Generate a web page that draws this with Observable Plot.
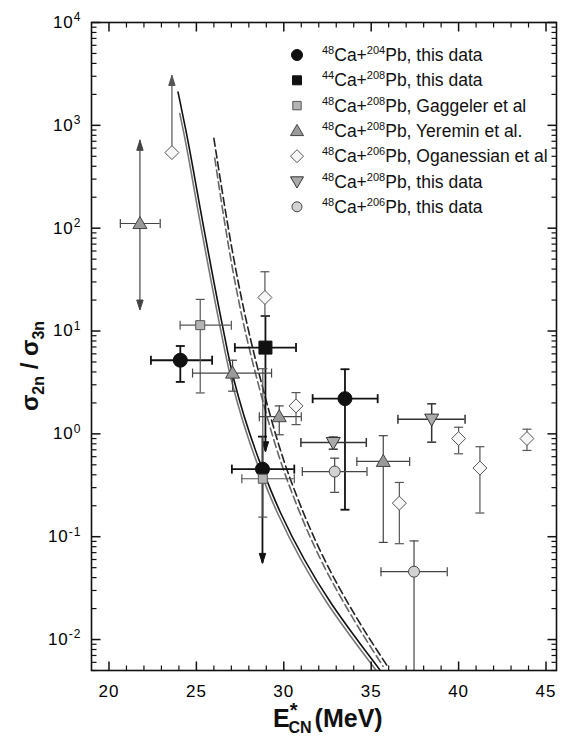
<!DOCTYPE html>
<html>
<head>
<meta charset="utf-8">
<script src="https://cdn.jsdelivr.net/npm/d3@7"></script>
<script src="https://cdn.jsdelivr.net/npm/@observablehq/plot@0.6"></script>
<style>
  body { margin: 0; background: #fff; }
  #chart { width: 562px; height: 737px; }
  svg text { font-family: "Liberation Sans", Arial, sans-serif; }
</style>
</head>
<body>
<div id="chart"></div>
<script>
// ---- measured ratios sigma(2n)/sigma(3n) vs. compound-nucleus excitation energy ----
// E: excitation energy (MeV), r: ratio, eLo/eHi: energy range, rLo/rHi: ratio range
const ca48pb204 = [
  {E: 24.08, r: 5.2,   eLo: 22.4,  eHi: 25.9,  rLo: 3.2,   rHi: 7.15},
  {E: 28.78, r: 0.454, eLo: 27.03, eHi: 30.6,  rLo: 0.055, rHi: 0.94, downArrow: true},
  {E: 33.5,  r: 2.2,   eLo: 31.65, eHi: 35.37, rLo: 0.183, rHi: 4.25}
];
const ca44pb208 = [
  {E: 28.95, r: 6.9,   eLo: 27.2,  eHi: 30.7,  rLo: 0.67,  rHi: 14, downArrow: true}
];
const gaggeler = [
  {E: 25.22, r: 11.4,  eLo: 24.07, eHi: 27.0,  rLo: 2.5,   rHi: 20.3},
  {E: 28.8,  r: 0.366, eLo: 27.6,  eHi: 30.6,  rLo: 0.155, rHi: 4.3}
];
const yeremin = [
  {E: 21.77, r: 111,   eLo: 20.65, eHi: 22.93, rLo: 16,    rHi: 715, upArrow: true, downArrow: true},
  {E: 27.07, r: 3.9,   eLo: 24.78, eHi: 29.3,  rLo: 2.6,   rHi: 5.2},
  {E: 29.74, r: 1.47,  eLo: 28.6,  eHi: 31.0,  rLo: 0.98,  rHi: 1.87},
  {E: 35.69, r: 0.54,  eLo: 34.18, eHi: 37.2,  rLo: 0.088, rHi: 0.96}
];
const oganessian = [
  {E: 23.6,  r: 543,   rHi: 3055, upArrow: true},
  {E: 28.92, r: 21.2,  rLo: 14,    rHi: 37.7},
  {E: 30.7,  r: 1.87,  rLo: 1.23,  rHi: 2.52},
  {E: 36.61, r: 0.212, rLo: 0.0855, rHi: 0.337},
  {E: 40.0,  r: 0.90,  rLo: 0.64,  rHi: 1.16},
  {E: 41.22, r: 0.465, rLo: 0.17,  rHi: 0.75},
  {E: 43.91, r: 0.90,  rLo: 0.69,  rHi: 1.11}
];
const ca48pb208 = [
  {E: 38.46, r: 1.39,  eLo: 36.53, eHi: 40.37, rLo: 0.83,  rHi: 1.96},
  {E: 32.83, r: 0.824, eLo: 30.98, eHi: 34.72, rLo: 0.71,  rHi: 0.93}
];
const ca48pb206 = [
  {E: 32.91, r: 0.43,   eLo: 31.06, eHi: 34.76, rLo: 0.27,  rHi: 0.58},
  {E: 37.45, r: 0.0457, eLo: 35.56, eHi: 39.35, rLo: 0.001, rHi: 0.091, openLo: true}
];

// ---- model calculations: [E (MeV), ratio] ----
const solidBlack = [[23.95, 2105], [24.40, 894], [25.34, 120], [26.46, 12.0], [27.15, 3.34],
  [28.78, 0.454], [29.82, 0.170], [32.68, 0.0229], [34.40, 0.00894], [35.49, 0.0051]];
const solidGray = [[24.05, 1300], [24.25, 894], [25.19, 120], [26.31, 12.0], [27.0, 3.34],
  [28.6, 0.454], [29.64, 0.170], [32.46, 0.0229], [34.17, 0.00894], [35.25, 0.0051]];
const dashedBlack = [[26.0, 750], [28.2, 7.04], [28.68, 3.34], [30.39, 0.357], [32.68, 0.0457],
  [34.40, 0.014], [35.93, 0.0055]];
const dashedGray = [[26.05, 480], [28.0, 7.04], [28.48, 3.34], [30.19, 0.357], [32.46, 0.0457],
  [34.17, 0.014], [35.68, 0.0055]];

// ---- axis ticks ----
const xMajor = [20, 25, 30, 35, 40, 45];
const xMinor = d3.range(20, 46).filter(v => v % 5 !== 0);
const yMajor = [1e-2, 1e-1, 1, 1e1, 1e2, 1e3, 1e4];
const yMinor = [];
for (let e = -3; e < 4; e++) for (let m = 2; m < 10; m++) {
  const v = +(m * Math.pow(10, e)).toPrecision(3);
  if (v >= 0.005 && v <= 1e4) yMinor.push(v);
}

// ---- legend ----
const legendItems = [
  {a: "48", b: "204", text: "Pb, this data"},
  {a: "44", b: "208", text: "Pb, this data"},
  {a: "48", b: "208", text: "Pb, Gaggeler et al"},
  {a: "48", b: "208", text: "Pb, Yeremin et al."},
  {a: "48", b: "206", text: "Pb, Oganessian et al"},
  {a: "48", b: "208", text: "Pb, this data"},
  {a: "48", b: "206", text: "Pb, this data"}
];

// custom path symbols; r is the radius Plot hands to the symbol
const sym = f => ({draw(c, s) { f(c, Math.sqrt(s / Math.PI)); }});
const tickUp = sym((c, l) => { c.moveTo(0, 0); c.lineTo(0, -l); });
const tickDown = sym((c, l) => { c.moveTo(0, 0); c.lineTo(0, l); });
const tickRight = sym((c, l) => { c.moveTo(0, 0); c.lineTo(l, 0); });
const tickLeft = sym((c, l) => { c.moveTo(0, 0); c.lineTo(-l, 0); });
const capH = sym((c, l) => { c.moveTo(-l, 0); c.lineTo(l, 0); });
const capV = sym((c, l) => { c.moveTo(0, -l); c.lineTo(0, l); });
const headDown = sym((c, l) => { c.moveTo(0, 0); c.lineTo(-0.32 * l, -l); c.lineTo(0.32 * l, -l); c.closePath(); });
const headUp = sym((c, l) => { c.moveTo(0, 0); c.lineTo(-0.32 * l, l); c.lineTo(0.32 * l, l); c.closePath(); });
const square = sym((c, r) => c.rect(-r, -r, 2 * r, 2 * r));
const triUp = sym((c, r) => { c.moveTo(0, -r); c.lineTo(r, 0.72 * r); c.lineTo(-r, 0.72 * r); c.closePath(); });
const triDown = sym((c, r) => { c.moveTo(0, r); c.lineTo(r, -0.72 * r); c.lineTo(-r, -0.72 * r); c.closePath(); });
const diamond = sym((c, r) => { c.moveTo(0, -r); c.lineTo(r, 0); c.lineTo(0, r); c.lineTo(-r, 0); c.closePath(); });
const circle = sym((c, r) => { c.moveTo(r, 0); c.arc(0, 0, r, 0, 2 * Math.PI); });

const styles = [
  {data: ca48pb204, symbol: circle,  r: 7,   fill: "#111",    stroke: "#111", bar: "#111", lw: 1.8, lr: 5.5},
  {data: ca44pb208, symbol: square,  r: 6.5, fill: "#111",    stroke: "#111", bar: "#111", lw: 1.8, lr: 4.5},
  {data: gaggeler,  symbol: square,  r: 4.5, fill: "#b4b4b4", stroke: "#555", bar: "#555", lw: 1.2, lr: 4.2},
  {data: yeremin,   symbol: triUp,   r: 7,   fill: "#9a9a9a", stroke: "#444", bar: "#444", lw: 1.2, lr: 6.5},
  {data: oganessian,symbol: diamond, r: 7,   fill: "#f6f6f6", stroke: "#555", bar: "#555", lw: 1.2, lr: 6.5},
  {data: ca48pb208, symbol: triDown, r: 7,   fill: "#aaaaaa", stroke: "#333", bar: "#333", lw: 1.5, lr: 6.5},
  {data: ca48pb206, symbol: circle,  r: 5.5, fill: "#d2d2d2", stroke: "#444", bar: "#444", lw: 1.2, lr: 5}
];

function errorBars(s) {
  const data = s.data, col = s.bar, lw = s.lw;
  const withX = data.filter(d => d.eLo != null);
  const withY = data.filter(d => d.rLo != null || d.rHi != null);
  const line = {stroke: col, strokeWidth: lw, fill: "none"};
  return [
    Plot.ruleY(withX, {y: "r", x1: "eLo", x2: "eHi", ...line}),
    Plot.dot(withX, {x: "eLo", y: "r", symbol: capV, r: 4.5, ...line}),
    Plot.dot(withX, {x: "eHi", y: "r", symbol: capV, r: 4.5, ...line}),
    Plot.ruleX(withY, {x: "E", y1: d => d.rLo ?? d.r, y2: d => d.rHi ?? d.r, ...line, clip: true}),
    Plot.dot(withY.filter(d => d.rHi != null && !d.upArrow), {x: "E", y: "rHi", symbol: capH, r: 4.5, ...line}),
    Plot.dot(withY.filter(d => d.rLo != null && !d.downArrow && !d.openLo), {x: "E", y: "rLo", symbol: capH, r: 4.5, ...line}),
    Plot.dot(data.filter(d => d.upArrow), {x: "E", y: "rHi", symbol: headUp, r: 10, fill: col, stroke: col, strokeWidth: 1}),
    Plot.dot(data.filter(d => d.downArrow), {x: "E", y: "rLo", symbol: headDown, r: 10, fill: col, stroke: col, strokeWidth: 1})
  ];
}
function markers(s) {
  return Plot.dot(s.data, {x: "E", y: "r", symbol: s.symbol, r: s.r, fill: s.fill, stroke: s.stroke, strokeWidth: 1});
}
// the ratio falls monotonically along each model curve, so interpolate E as a function of the ratio
const curve = (data, stroke, dash) => Plot.line(data, {
  x: d => d[0], y: d => d[1], curve: "monotone-y", stroke, strokeWidth: 1.6,
  strokeDasharray: dash, clip: true
});

const plot = Plot.plot({
  width: 562, height: 737,
  marginLeft: 91, marginRight: 6, marginTop: 22, marginBottom: 67,
  x: {domain: [19, 45.6]},
  y: {type: "log", domain: [0.005, 1e4]},
  style: {fontFamily: "Liberation Sans, Arial, sans-serif", background: "white", overflow: "visible"},
  marks: [
    curve(solidGray, "#777", null),
    curve(solidBlack, "#111", null),
    curve(dashedGray, "#666", "8,4"),
    curve(dashedBlack, "#222", "8,4"),
    ...styles.flatMap(errorBars),
    ...styles.map(markers),
    Plot.frame({stroke: "#111", strokeWidth: 1.6}),
    // inward ticks on all four sides
    Plot.dot(xMajor, {x: d => d, frameAnchor: "bottom", symbol: tickUp, r: 9, stroke: "#111", strokeWidth: 1.5}),
    Plot.dot(xMinor, {x: d => d, frameAnchor: "bottom", symbol: tickUp, r: 5, stroke: "#111", strokeWidth: 1.2}),
    Plot.dot(xMajor, {x: d => d, frameAnchor: "top", symbol: tickDown, r: 9, stroke: "#111", strokeWidth: 1.5}),
    Plot.dot(xMinor, {x: d => d, frameAnchor: "top", symbol: tickDown, r: 5, stroke: "#111", strokeWidth: 1.2}),
    Plot.dot(yMajor, {y: d => d, frameAnchor: "left", symbol: tickRight, r: 9, stroke: "#111", strokeWidth: 1.5}),
    Plot.dot(yMinor, {y: d => d, frameAnchor: "left", symbol: tickRight, r: 5, stroke: "#111", strokeWidth: 1.2}),
    Plot.dot(yMajor, {y: d => d, frameAnchor: "right", symbol: tickLeft, r: 9, stroke: "#111", strokeWidth: 1.5}),
    Plot.dot(yMinor, {y: d => d, frameAnchor: "right", symbol: tickLeft, r: 5, stroke: "#111", strokeWidth: 1.2}),
    Plot.axisX({ticks: xMajor, tickSize: 0, tickPadding: 14, fontSize: 17, label: null, tickFormat: d => String(d)}),
    Plot.axisY({ticks: yMajor, tickSize: 0, tickPadding: 10, fontSize: 17, label: null,
      tickFormat: d => String(Math.round(Math.log10(d)))})
  ]
});

const svg = d3.select(plot);
svg.selectAll('g[aria-label="x-axis tick label"] text').attr("letter-spacing", 1);

// powers of ten with raised exponents
svg.selectAll('g[aria-label="y-axis tick label"] text').each(function () {
  const exp = this.textContent.replace("−", "-");
  const t = d3.select(this).text(null).attr("letter-spacing", 1);
  t.append("tspan").text("10");
  t.append("tspan").attr("dy", "-0.55em").attr("font-size", 12).text(exp);
});

// legend
const lg = svg.append("g").attr("font-size", 17.5).attr("fill", "#111").attr("text-anchor", "start");
legendItems.forEach((item, i) => {
  const s = styles[i];
  const cy = 55 + i * 25.3;
  lg.append("path")
    .attr("transform", `translate(297,${cy})`)
    .attr("d", d3.symbol(s.symbol, s.lr * s.lr * Math.PI)())
    .attr("fill", s.fill).attr("stroke", s.stroke).attr("stroke-width", 1);
  const t = lg.append("text").attr("x", 322).attr("y", cy + 6);
  t.append("tspan").attr("font-size", 11).attr("dy", -7).text(item.a);
  t.append("tspan").attr("dy", 7).text("Ca+");
  t.append("tspan").attr("font-size", 11).attr("dy", -7).text(item.b);
  t.append("tspan").attr("dy", 7).text(item.text);
});

// axis titles
const yt = svg.append("text")
  .attr("transform", "translate(38,366) rotate(-90)")
  .attr("text-anchor", "middle").attr("font-weight", "bold").attr("font-size", 24).attr("fill", "#111");
yt.append("tspan").text("σ");
yt.append("tspan").attr("font-size", 16).attr("dy", 6).text("2n");
yt.append("tspan").attr("dy", -6).text(" / σ");
yt.append("tspan").attr("font-size", 16).attr("dy", 6).text("3n");

const xt = svg.append("text")
  .attr("x", 273).attr("y", 727).attr("text-anchor", "start")
  .attr("font-weight", "bold").attr("font-size", 25).attr("fill", "#111");
xt.append("tspan").text("E");
xt.append("tspan").attr("font-size", 20).attr("dy", -10).attr("dx", 0).text("*");
xt.append("tspan").attr("font-size", 16).attr("dy", 16).attr("dx", -9).text("CN");
xt.append("tspan").attr("dy", -6).attr("dx", 3).text("(MeV)");

document.getElementById("chart").append(plot);
</script>
</body>
</html>
